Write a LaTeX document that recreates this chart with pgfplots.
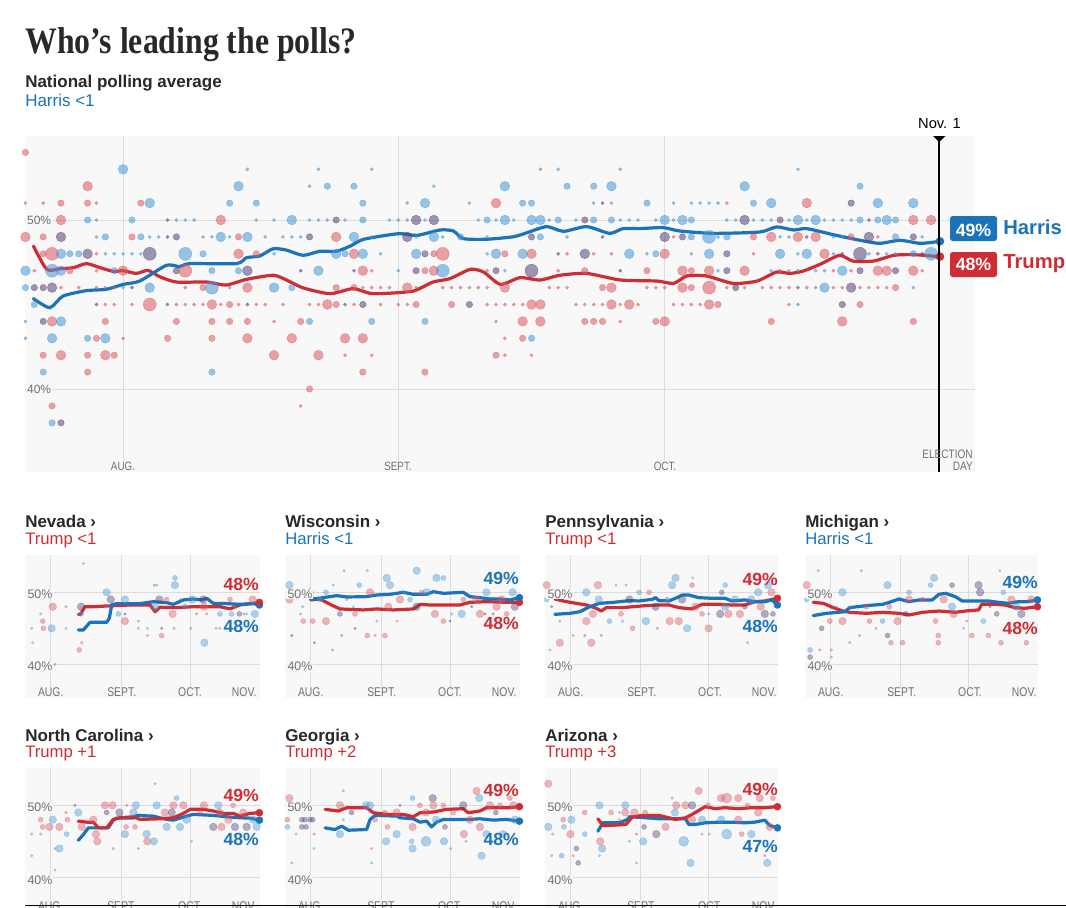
\documentclass[border=0pt]{standalone}
\usepackage{pgfplots}
\pgfplotsset{compat=1.18}
\usepackage{fontspec}
\setmainfont{Liberation Sans}
\newfontfamily\titlefont[FakeStretch=0.85]{Liberation Serif}
\newfontfamily\narrowfont[FakeStretch=0.82]{Liberation Sans}
\newcommand\fs[1]{\fontsize{#1}{#1}\selectfont}
\definecolor{hblue}{RGB}{27,115,186}
\definecolor{tred}{RGB}{206,45,52}
\definecolor{dotb}{RGB}{70,152,215}
\definecolor{dotr}{RGB}{219,88,97}
\definecolor{dotd}{RGB}{85,65,120}
\definecolor{plotbg}{RGB}{248,248,248}
\definecolor{gridc}{RGB}{220,220,220}
\definecolor{ticktext}{RGB}{112,112,112}
\definecolor{headtext}{RGB}{40,40,40}
\pgfplotsset{
  frame/.style={scale only axis, anchor=south west, axis line style={draw=none},
    major tick length=0pt, xticklabels={}, yticklabels={},
    xtick={0,31,61}, ytick={40,50}, grid=major,
    grid style={gridc, line width=0.75pt},
    axis background/.style={fill=plotbg}},
  small/.style={frame, width=176.25pt, height=107.25pt,
    xmin=-11.25, xmax=91.65, ymin=35.32, ymax=55.18},
  dots/.style n args={2}{scatter, only marks, mark=*, scatter src=explicit symbolic,
    scatter/classes={
      b={draw=dotb, fill=dotb, opacity=#1, line width=0.3pt},
      r={draw=dotr, fill=dotr, opacity=#1, line width=0.3pt},
      d={draw=dotd, fill=dotd, opacity=#1, line width=0.3pt}},
    visualization depends on={#2*\thisrow{s} \as \msz},
    scatter/@pre marker code/.append style={/tikz/mark size=\msz}},
  trend/.style={line width=2.4pt, line join=round, line cap=round},
  enddot/.style={only marks, mark=*, mark size=2.6pt},
}
\begin{document}
\begin{tikzpicture}
\useasboundingbox (0,0) rectangle (799.5pt,-680.25pt);
\clip (0,0) rectangle (799.5pt,-680.25pt);
\begin{scope}[x=0.75pt,y=-0.75pt]
\fill[white] (0,0) rectangle (1066,907);
\coordinate (mainSW) at (25,472);
\coordinate (p1) at (25,698);
\coordinate (p2) at (285,698);
\coordinate (p3) at (545,698);
\coordinate (p4) at (805,698);
\coordinate (p5) at (25,911);
\coordinate (p6) at (285,911);
\coordinate (p7) at (545,911);
\end{scope}

% ---------------- national ----------------
\begin{axis}[frame, at={(mainSW)}, width=712.5pt, height=252pt,
  xmin=-11.05, xmax=95.95, ymin=35.09, ymax=54.97]
\addplot[dots={0.55}{1.22}] table[meta=c]{
x y s c
-11 54 2 r
0 53 3 b
14 53 1 b
22 53 1 b
-4 52 3 r
13 52 3 b
21 52 1 b
23 52 2 b
-11 51 1 r
-9 51 1 r
-7 51 2 r
-4 51 2 r
-3 51 1 r
2 51 2 r
3 51 3 b
12 51 2 b
15 51 2 b
-7 50 3 r
-4 50 2 b
-3 50 1 b
1 50 2 b
5 50 1 d
6 50 1 b
7 50 1 b
8 50 1 b
11 50 3 r
15 50 1 b
17 50 1 b
19 50 3 b
21 50 1 b
22 50 1 b
23 50 1 b
24 50 2 d
-11 49 3 r
-9 49 2 r
-7 49 3 d
-3 49 1 b
-2 49 2 b
1 49 2 r
2 49 2 b
3 49 1 b
4 49 1 b
5 49 1 d
6 49 2 d
9 49 1 b
10 49 1 b
11 49 3 b
12 49 1 b
13 49 2 r
14 49 3 b
16 49 1 b
18 49 1 b
19 49 1 b
20 49 1 b
21 49 2 d
24 49 3 r
-9 48 2 r
-8 48 4 r
-7 48 3 b
-6 48 2 b
-5 48 2 b
-4 48 3 d
-3 48 1 r
-2 48 1 b
-1 48 1 b
0 48 1 b
1 48 1 b
2 48 1 b
3 48 4 d
7 48 4 b
9 48 2 b
13 48 3 r
15 48 2 r
17 48 1 b
24 48 3 b
-11 47 3 b
-10 47 1 r
-8 47 4 b
-7 47 3 b
-6 47 2 r
-3 47 1 r
-1 47 2 b
0 47 3 r
6 47 2 d
7 47 4 r
10 47 2 b
13 47 2 b
14 47 3 d
20 47 1 d
22 47 3 b
-11 46 2 b
-10 46 2 d
-9 46 2 d
-8 46 3 d
-7 46 1 r
-5 46 1 r
-3 46 1 r
-2 46 1 r
-1 46 1 r
0 46 1 b
1 46 1 d
3 46 3 b
7 46 1 r
9 46 2 r
10 46 4 b
12 46 1 b
14 46 3 r
17 46 3 b
19 46 2 b
24 46 2 r
-10 45 2 b
-3 45 1 d
-2 45 1 r
-1 45 1 r
1 45 1 r
3 45 4 r
5 45 1 d
6 45 1 r
7 45 1 r
8 45 1 r
9 45 1 r
10 45 3 r
11 45 1 r
12 45 2 r
13 45 1 r
14 45 1 d
15 45 1 r
16 45 1 r
18 45 1 r
21 45 1 r
22 45 1 r
23 45 3 r
24 45 2 r
-11 44 1 b
-9 44 2 d
-8 44 3 r
-7 44 3 b
-2 44 2 r
6 44 2 r
10 44 2 r
12 44 2 r
14 44 2 r
17 44 1 r
20 44 2 r
21 44 2 b
-11 43 1 b
-8 43 3 b
-4 43 2 b
-3 43 2 r
-2 43 3 b
0 43 1 r
5 43 2 r
10 43 2 r
14 43 3 r
19 43 3 r
-9 42 2 r
-7 42 3 r
-4 42 2 r
-2 42 3 r
-1 42 2 r
17 42 3 r
22 42 3 r
-9 41 2 b
-4 41 2 r
10 41 2 b
21 40 2 r
-8 39 2 r
20 39 1 r
-8 38 2 b
-7 38 2 d
28 53 1 b
47 53 1 b
49 53 1 b
56 53 1 b
26 52 2 b
35 52 1 b
43 52 3 b
50 52 2 b
53 52 2 b
55 52 3 b
27 51 2 b
32 51 1 b
34 51 3 b
39 51 1 b
42 51 3 r
45 51 2 b
46 51 2 b
53 51 1 b
54 51 1 d
55 51 1 b
59 51 2 b
25 50 1 b
27 50 2 b
30 50 1 b
31 50 1 b
32 50 1 b
33 50 3 d
34 50 1 b
35 50 3 d
40 50 1 b
41 50 2 b
42 50 1 b
43 50 3 b
44 50 1 b
46 50 3 b
47 50 3 b
48 50 1 b
49 50 2 b
51 50 1 b
52 50 2 d
53 50 2 b
55 50 2 b
56 50 1 b
57 50 1 b
58 50 1 b
60 50 1 b
26 49 3 b
28 49 1 b
32 49 3 d
33 49 1 b
35 49 3 b
36 49 1 b
38 49 2 b
41 49 1 b
46 49 2 d
47 49 2 b
50 49 1 b
54 49 1 d
25 48 2 b
26 48 3 r
27 48 3 b
29 48 1 b
33 48 3 b
34 48 2 d
35 48 2 r
36 48 4 r
41 48 1 b
42 48 3 b
43 48 2 r
45 48 3 b
46 48 3 r
49 48 1 d
50 48 1 r
52 48 3 d
53 48 1 r
55 48 1 r
57 48 3 b
59 48 1 b
60 48 2 b
26 47 1 d
27 47 3 r
28 47 1 r
31 47 1 b
33 47 2 d
34 47 2 r
35 47 3 r
36 47 4 b
41 47 1 r
42 47 2 d
43 47 1 b
46 47 4 d
49 47 1 r
52 47 2 r
56 47 1 d
59 47 2 r
26 46 2 r
27 46 1 r
28 46 1 r
29 46 1 r
30 46 1 r
32 46 3 r
33 46 1 r
36 46 1 r
37 46 1 r
38 46 1 r
39 46 1 r
40 46 1 r
41 46 1 r
43 46 3 r
48 46 1 r
49 46 1 r
50 46 1 r
54 46 2 r
55 46 3 r
59 46 1 r
60 46 1 r
25 45 1 d
26 45 1 r
27 45 2 d
29 45 1 r
31 45 1 r
32 45 1 r
33 45 2 r
37 45 2 r
39 45 2 d
41 45 1 r
42 45 1 r
43 45 1 r
44 45 1 r
45 45 1 r
46 45 3 r
47 45 3 r
51 45 1 r
52 45 1 r
53 45 1 r
54 45 1 r
55 45 3 r
56 45 1 r
57 45 3 r
58 45 1 r
28 44 2 b
34 44 2 b
42 44 1 b
45 44 3 r
47 44 3 r
52 44 2 r
53 44 2 r
54 44 2 r
56 44 1 r
60 44 2 r
25 43 3 r
27 43 3 r
43 43 1 r
45 43 2 r
46 43 2 b
25 42 1 r
28 42 1 r
42 42 2 r
43 42 1 r
46 42 1 r
27 41 2 r
34 41 2 r
76 53 1 b
70 52 3 b
83 52 2 b
62 51 1 b
64 51 1 b
65 51 1 b
66 51 1 b
67 51 1 b
68 51 1 r
71 51 2 b
73 51 3 b
77 51 3 r
82 51 2 d
85 51 3 b
89 51 3 b
61 50 3 b
62 50 1 b
63 50 3 b
64 50 2 b
68 50 1 b
69 50 1 b
70 50 3 d
71 50 1 b
72 50 1 b
73 50 1 b
74 50 2 d
75 50 1 b
76 50 3 b
77 50 1 b
78 50 3 b
79 50 1 b
80 50 1 b
81 50 1 b
82 50 1 b
83 50 2 b
84 50 1 d
85 50 2 b
86 50 3 b
87 50 2 b
89 50 3 r
91 50 3 r
61 49 3 d
62 49 1 r
63 49 2 d
64 49 2 b
66 49 4 b
67 49 1 b
68 49 2 b
71 49 2 r
73 49 3 r
74 49 1 b
75 49 1 b
76 49 3 r
77 49 1 d
78 49 3 r
80 49 1 b
81 49 1 b
82 49 2 r
84 49 3 d
85 49 1 r
87 49 2 b
89 49 2 d
90 49 1 b
61 48 3 r
64 48 1 b
66 48 3 b
68 48 2 d
71 48 1 r
74 48 3 b
76 48 1 b
77 48 3 b
79 48 3 r
80 48 1 b
81 48 1 d
83 48 4 d
84 48 1 b
85 48 1 d
86 48 1 b
87 48 1 b
89 48 2 b
90 48 1 d
91 48 4 b
63 47 3 r
64 47 2 r
66 47 3 r
67 47 1 b
68 47 2 d
70 47 3 r
73 47 1 b
74 47 1 r
75 47 1 b
76 47 1 b
78 47 1 b
79 47 1 b
80 47 1 r
81 47 3 b
82 47 1 r
83 47 2 d
85 47 3 r
86 47 3 r
87 47 2 d
89 47 3 r
90 47 1 r
61 46 1 r
63 46 3 r
64 46 2 r
66 46 4 r
68 46 1 r
69 46 2 d
70 46 1 r
72 46 1 r
73 46 1 r
74 46 1 r
75 46 1 r
76 46 1 d
77 46 1 r
78 46 1 r
79 46 3 b
80 46 1 r
81 46 1 r
82 46 3 d
83 46 1 r
84 46 1 r
85 46 1 r
86 46 1 r
87 46 2 r
89 46 1 b
62 45 1 r
63 45 1 r
64 45 1 r
65 45 1 r
66 45 3 r
67 45 2 r
75 45 1 r
76 45 1 b
81 45 2 d
83 45 2 r
61 44 3 r
73 44 2 r
81 44 3 r
89 44 2 r
};
\addplot[tred, trend, smooth, tension=0.4] coordinates {(-10.1,48.46) (-8.6,47.08) (-7.1,47.12) (-5.6,47.18) (-4.13,47.42) (-2.6,47.18) (-1.1,46.96) (0,47.0) (1.5,46.84) (2.8,47.02) (4.1,46.65) (6.0,46.33) (9.4,46.33) (11.6,46.15) (13.9,46.49) (16.9,46.73) (18.4,46.45) (20.3,45.98) (23.3,45.64) (25.9,45.94) (27.8,45.66) (29.7,45.66) (32.7,45.80) (34.9,46.33) (36.8,46.53) (39.1,47.08) (40.6,46.92) (42.5,46.19) (44.7,46.59) (46.96,46.45) (49.2,46.73) (52.2,46.84) (56.0,46.45) (60.1,46.39) (62.0,46.25) (63.5,46.69) (65.7,46.69) (68.7,46.25) (71.4,46.39) (73.6,46.92) (75.1,46.84) (76.6,46.98) (78.5,47.38) (80.7,47.91) (82.2,47.57) (84.5,47.57) (86.8,47.91) (89.0,47.95) (92.0,47.83)};
\addplot[hblue, trend, smooth, tension=0.4] coordinates {(-10.1,45.35) (-8.26,44.81) (-6.76,45.50) (-4.13,45.82) (-1.88,45.90) (0,46.19) (1.88,46.39) (4.88,47.32) (6.38,47.24) (7.51,47.42) (12.76,47.42) (13.89,47.77) (15.39,47.87) (16.89,48.30) (18.39,48.22) (20.27,47.91) (22.15,48.15) (24.02,48.15) (25.6,48.46) (27.1,48.86) (31.0,49.19) (33.1,49.09) (35.7,49.41) (37.2,49.35) (38.3,48.90) (40.9,48.86) (43.96,49.01) (45.5,49.25) (47.7,49.61) (49.6,49.33) (52.2,49.61) (54.8,49.21) (56.3,49.49) (58.2,49.49) (60.8,49.55) (62.7,49.35) (66.5,49.21) (71.7,49.29) (73.6,49.59) (75.5,49.41) (77.0,49.49) (80.0,49.13) (83.0,48.80) (85.2,48.62) (87.5,48.80) (89.8,48.62) (92.0,48.74)};
\addplot[enddot, mark size=3pt, tred] coordinates {(92,47.83)};
\addplot[enddot, mark size=3pt, hblue] coordinates {(92,48.74)};
\end{axis}

% ---------------- Nevada ----------------
\begin{axis}[small, at={(p1)}]
\addplot[dots={0.42}{0.95}] table[meta=c]{
x y s c
0.9 48 3 r
6.7 48 1 r
-3.2 45 2 r
0.4 45 3 b
-8.3 45 1 r
-7.9 43 1 b
-4.4 47 1 b
-3.5 46 2 r
13.3 48 3 d
13.3 47 2 b
13.6 43 1 r
12.5 42 2 r
14.3 54 1 b
6.7 45 1 b
24.5 50 3 b
26.3 49 3 d
24.8 48 1 b
29.6 47 2 b
32.5 49 3 b
32.5 46 3 r
32.5 47 1 d
38.4 46 1 b
38.4 45 1 b
42.3 45 1 b
42.3 44 1 r
45.4 51 1 b
46.4 51 1 b
45.7 48 3 b
47.6 49 3 d
48.6 45 1 d
48.6 44 2 r
50.8 49 2 r
54.0 45 1 r
54.4 52 2 b
54.4 51 3 b
53.4 47 3 r
56.9 49 1 b
58.8 48 2 b
61.3 45 1 b
62.1 49 3 b
63.9 47 1 r
66.8 49 3 d
67.1 48 3 r
67.3 43 3 b
68.3 47 1 r
72.4 45 1 b
74.1 47 2 b
74.1 45 1 r
74.8 48 1 d
78.5 49 2 r
79.2 47 2 b
80.7 48 1 b
82.6 47 2 d
84.6 47 1 r
85.8 47 1 b
88.4 49 3 r
89.4 47 3 b
1.8 40 1 b
};
\addplot[tred, trend] coordinates {(12.1,46.94) (13.0,46.94) (15.0,48.0) (18.7,48.0) (24.5,48.1) (34.7,48.24) (43.5,48.24) (45.7,47.3) (47.8,47.92) (55.1,47.87) (62.4,48.0) (68.3,48.0) (74.1,48.0) (78.5,47.7) (82.9,48.24) (91.4,48.6)};
\addplot[hblue, trend] coordinates {(12.1,44.77) (14.3,44.77) (17.2,45.83) (24.5,45.83) (25.7,46.4) (26.7,48.24) (28.9,48.43) (39.1,48.43) (44.9,48.7) (50.8,48.56) (53.7,48.33) (58.1,48.94) (62.4,49.07) (66.1,48.94) (68.3,49.17) (71.2,48.47) (77.0,48.43) (82.9,48.33) (88.7,48.43) (91.4,48.24)};
\addplot[enddot, hblue] coordinates {(91.4,48.24)};
\addplot[enddot, tred] coordinates {(91.4,48.6)};
\end{axis}

% ---------------- Wisconsin ----------------
\begin{axis}[small, at={(p2)}]
\addplot[dots={0.42}{0.95}] table[meta=c]{
x y s c
-9.3 51 3 b
-9.3 49 3 r
-3.5 48 1 b
-3.2 46 2 r
0.9 46 2 r
-0.3 50 3 b
-4.4 47 1 r
-8.3 44 1 d
1.6 43 1 d
4.1 49 2 b
6.7 50 2 b
6.7 46 3 r
9.9 51 1 b
9.6 42 1 r
12.8 47 2 d
13.6 44 1 r
14.6 53 1 b
15.8 49 1 r
18.7 48 1 b
19.4 45 1 d
19.4 47 2 r
21.3 51 2 b
24.8 53 1 b
24.8 44 2 r
26.0 50 3 r
28.2 44 1 r
28.9 46 1 b
32.5 44 2 r
33.3 52 3 b
34.0 48 3 r
34.7 51 3 b
37.9 46 1 r
39.1 49 3 r
40.6 50 1 b
43.5 49 2 b
46.4 53 3 b
48.6 50 2 r
50.8 50 3 b
46.4 48 3 d
54.4 47 3 r
55.1 52 3 b
58.1 52 2 b
58.1 46 2 r
61.0 46 1 d
61.7 47 1 b
66.1 47 3 b
66.8 49 2 r
70.5 48 1 d
72.6 49 3 r
74.1 47 3 r
76.3 47 1 d
77.0 50 3 b
79.9 47 1 d
81.4 48 3 r
83.6 49 3 r
85.8 47 2 r
88.4 50 3 b
89.4 48 3 d
};
\addplot[tred, trend] coordinates {(0,48.94) (4.1,49.07) (8.5,48.33) (12.8,47.69) (23.0,47.55) (28.9,47.69) (36.2,47.55) (45.0,47.69) (47.9,48.33) (52.1,48.24) (56.6,48.24) (65.4,48.24) (69.7,48.61) (77.0,48.7) (85.8,48.61) (91.4,48.61)};
\addplot[hblue, trend] coordinates {(0,49.03) (5.5,49.26) (11.4,49.54) (15.8,49.35) (24.5,49.4) (28.9,49.63) (34.7,49.72) (40.6,50.0) (45.0,49.72) (50.8,49.72) (53.7,50.09) (58.1,49.86) (66.8,50.0) (69.7,49.4) (74.1,49.26) (78.5,49.07) (82.9,49.07) (87.2,48.94) (91.4,49.26)};
\addplot[enddot, tred] coordinates {(91.4,48.61)};
\addplot[enddot, hblue] coordinates {(91.4,49.26)};
\end{axis}

% ---------------- Pennsylvania ----------------
\begin{axis}[small, at={(p3)}, width=174.75pt]
\addplot[dots={0.42}{0.95}] table[meta=c]{
x y s c
-10.5 51 3 r
-10.5 49 2 b
-4.7 50 2 r
-8.3 48 1 d
-4.7 46 1 r
-9.0 42 1 b
-4.7 43 3 r
1.2 44 1 b
6.3 44 1 r
7.0 50 3 b
7.0 46 3 r
9.9 47 3 r
9.2 43 3 r
12.1 51 3 r
12.5 49 3 b
13.6 44 1 r
17.2 46 2 b
20.1 51 1 b
24.5 51 1 b
22.3 47 2 r
23.0 46 1 b
26.0 49 3 d
27.4 45 2 r
30.3 50 2 b
33.3 46 3 b
34.7 50 2 r
37.6 48 3 d
38.4 45 1 r
42.7 49 2 b
43.8 46 3 r
44.9 51 3 b
46.4 52 3 b
47.8 46 3 r
49.3 49 3 d
51.5 45 3 b
53.7 51 2 r
54.0 52 1 b
55.1 48 3 r
58.1 47 2 r
61.0 45 3 r
61.0 47 1 b
66.1 47 3 d
66.8 50 2 d
68.3 51 2 b
68.3 48 3 b
69.7 47 3 r
72.6 49 3 b
74.8 47 3 r
77.0 48 2 d
78.2 43 1 b
79.9 49 3 b
82.9 50 3 b
84.0 48 3 r
85.8 47 3 d
87.2 51 3 b
88.7 50 3 r
89.4 47 2 d
};
\addplot[tred, trend] coordinates {(-6.9,49.07) (-1.8,48.7) (2.6,48.47) (7.0,48.24) (11.4,47.78) (13.6,47.4) (15.8,47.87) (23.1,47.87) (27.4,48.0) (33.3,48.15) (39.1,48.24) (43.5,48.24) (47.9,47.87) (53.7,47.69) (58.1,48.33) (65.4,48.33) (71.2,48.24) (77.0,48.24) (81.4,48.7) (85.8,48.8) (91.4,49.17)};
\addplot[hblue, trend] coordinates {(-6.9,46.94) (-0.3,47.08) (4.1,47.3) (8.5,48.0) (12.8,48.47) (18.7,48.6) (26.0,48.84) (30.3,48.8) (36.2,49.03) (37.6,49.26) (39.1,48.84) (43.5,48.8) (46.4,49.17) (49.3,49.63) (52.2,49.63) (56.6,49.26) (62.4,49.17) (68.3,49.17) (71.2,48.8) (77.0,48.94) (81.4,48.7) (85.8,48.7) (89.0,48.94) (91.4,48.24)};
\addplot[enddot, hblue] coordinates {(91.4,48.24)};
\addplot[enddot, tred] coordinates {(91.4,49.17)};
\end{axis}

% ---------------- Michigan ----------------
\begin{axis}[small, at={(p4)}, width=174.75pt]
\addplot[dots={0.42}{0.95}] table[meta=c]{
x y s c
-10.5 51 3 r
-10.5 49 2 b
-9.0 42 2 b
-9.0 41 2 d
-5.4 53 1 b
-3.9 45 2 d
-4.7 42 1 r
0.4 42 1 r
0.4 41 1 b
-0.3 46 2 r
2.6 48 1 b
5.3 50 3 b
5.3 46 3 r
8.5 48 1 b
8.5 43 1 r
12.8 44 1 b
13.6 53 1 b
15.8 48 2 r
17.2 46 2 r
20.1 45 1 r
23.0 46 2 b
25.2 51 3 b
25.2 44 2 d
26.0 48 2 r
26.7 43 2 r
29.6 46 3 r
31.8 43 2 r
33.3 47 2 d
34.7 50 2 b
34.7 49 3 r
40.6 49 2 r
44.2 51 2 b
45.7 52 3 b
46.4 46 2 r
47.6 44 2 r
47.6 43 2 r
50.0 49 3 r
53.7 51 2 d
53.7 48 3 b
54.4 47 3 r
58.8 45 1 b
60.2 46 1 r
62.4 44 2 r
65.4 51 3 d
66.1 50 3 d
67.5 46 2 b
69.7 44 2 r
70.5 48 1 d
73.4 47 2 d
74.8 53 1 b
75.3 43 2 r
76.3 50 2 b
79.9 49 3 r
82.1 48 3 b
84.3 47 3 d
86.5 43 2 r
88.7 49 3 r
};
\addplot[tred, trend] coordinates {(-7.6,48.61) (-3.2,48.47) (1.2,47.87) (5.5,47.4) (8.5,47.22) (15.8,47.08) (23.0,47.22) (30.3,47.08) (34.7,46.85) (40.6,47.22) (47.9,47.4) (55.1,47.22) (59.5,47.4) (65.4,47.55) (66.8,48.33) (72.7,48.33) (77.0,48.24) (81.4,47.87) (85.8,47.78) (91.4,48.0)};
\addplot[hblue, trend] coordinates {(-7.6,46.76) (-1.8,47.08) (3.4,47.22) (6.3,47.3) (8.5,47.87) (15.8,48.15) (23.0,48.33) (26.0,48.61) (30.3,49.07) (34.7,48.7) (39.1,48.94) (44.9,48.94) (47.9,49.72) (50.8,49.86) (55.1,49.4) (58.1,48.8) (65.4,48.8) (69.7,48.8) (74.1,48.61) (78.5,48.47) (82.9,48.7) (87.2,48.7) (91.4,48.94)};
\addplot[enddot, tred] coordinates {(91.4,48.0)};
\addplot[enddot, hblue] coordinates {(91.4,48.94)};
\end{axis}

% ---------------- North Carolina ----------------
\begin{axis}[small, at={(p5)}]
\addplot[dots={0.42}{0.95}] table[meta=c]{
x y s c
-8.3 46 1 r
-8.3 43 1 b
-4.4 48 2 r
-4.4 46 1 b
-3.5 47 2 r
0.9 48 3 b
-0.6 47 3 r
3.8 47 3 r
1.9 44 1 b
3.8 44 3 b
1.9 41 1 b
7.0 46 2 b
7.3 48 2 r
6.7 49 1 r
10.6 50 1 d
12.1 49 3 b
13.6 47 3 r
18.7 48 3 r
19.8 46 3 r
20.4 45 3 r
24.5 49 2 d
23.8 50 3 r
27.1 50 3 r
30.1 49 3 d
27.4 44 1 b
32.5 46 3 b
33.0 47 2 r
33.3 50 1 r
36.2 49 3 b
37.3 50 3 b
38.4 44 1 r
36.9 47 2 r
42.0 46 3 b
42.3 45 3 r
45.2 45 3 b
45.7 53 1 r
46.4 50 3 b
50.0 49 3 r
50.8 47 3 b
53.0 49 3 d
53.7 50 3 r
55.1 51 2 b
58.1 50 3 r
56.6 47 3 b
59.5 48 3 b
61.7 45 1 b
65.4 49 2 r
67.1 50 3 r
71.2 47 3 d
73.4 50 3 b
74.1 49 3 r
74.8 47 3 r
77.8 48 3 r
79.9 50 2 r
80.7 47 3 d
84.3 49 3 r
85.8 47 3 d
88.7 48 3 b
90.2 47 3 b
};
\addplot[hblue, trend] coordinates {(12.1,45.14) (14.3,45.93) (16.5,46.87) (19.4,46.87) (25.2,46.87) (27.4,47.94) (28.9,48.22) (36.2,48.22) (37.6,48.6) (44.9,48.5) (50.8,48.04) (53.7,47.94) (59.5,48.5) (62.4,48.74) (71.2,48.6) (77.0,48.41) (82.9,48.27) (87.2,48.22) (91.4,47.94)};
\addplot[tred, trend] coordinates {(12.1,47.8) (15.8,47.66) (18.7,47.66) (20.9,46.87) (24.5,46.87) (27.4,48.04) (30.3,48.27) (36.2,48.41) (39.1,48.04) (47.9,48.13) (53.7,48.27) (58.1,48.88) (61.1,49.44) (66.8,49.44) (71.2,49.21) (75.6,48.88) (80.0,48.88) (82.9,48.5) (87.2,48.88) (91.4,48.97)};
\addplot[enddot, hblue] coordinates {(91.4,47.94)};
\addplot[enddot, tred] coordinates {(91.4,48.97)};
\end{axis}

% ---------------- Georgia ----------------
\begin{axis}[small, at={(p6)}]
\addplot[dots={0.42}{0.95}] table[meta=c]{
x y s c
-9.3 51 3 r
-10.2 48 2 r
-10.2 47 2 b
-6.4 46 1 b
-3.9 48 2 d
-2.5 48 2 d
-3.9 47 2 d
-2.0 47 2 d
-0.3 48 2 d
0.9 48 2 d
1.5 46 1 r
1.5 44 1 b
-8.3 42 1 b
12.8 50 3 r
12.8 46 3 b
14.3 52 1 r
14.3 48 1 b
17.9 49 2 d
24.2 50 3 b
26.0 50 3 b
26.7 44 1 r
26.7 42 1 b
28.2 48 2 r
32.5 49 2 r
33.0 45 3 b
33.6 47 2 r
37.6 46 3 b
37.6 49 3 r
39.1 50 1 d
44.6 51 2 b
44.6 47 3 r
44.2 45 2 b
44.6 44 3 b
47.8 50 2 r
50.5 49 3 r
50.5 45 4 b
53.4 51 3 d
53.7 50 3 r
54.9 48 3 b
58.1 50 2 r
58.4 45 3 b
58.8 47 2 d
61.3 44 1 b
62.4 49 2 r
66.8 50 3 d
67.1 46 3 r
68.0 45 1 b
69.7 48 3 r
72.6 52 3 r
73.8 51 3 b
74.1 47 3 r
74.8 43 3 b
77.0 46 3 b
78.5 50 3 r
81.1 49 2 d
82.9 50 2 r
84.3 46 3 b
87.2 51 2 r
88.7 50 3 r
89.4 48 3 b
};
\addplot[hblue, trend] coordinates {(6.3,46.87) (10.6,46.64) (13.6,47.1) (16.5,46.54) (24.5,46.64) (26.0,48.04) (28.2,48.6) (37.6,48.5) (39.1,48.27) (44.9,48.13) (47.9,47.66) (50.8,47.8) (52.9,47.0) (55.1,47.66) (58.1,48.04) (61.0,48.04) (66.8,48.04) (69.7,48.04) (74.1,48.13) (77.0,48.04) (80.0,47.94) (85.8,48.04) (91.4,47.8)};
\addplot[tred, trend] coordinates {(6.3,49.44) (12.1,49.21) (15.8,49.67) (24.5,49.67) (27.4,48.97) (33.3,48.74) (40.6,48.74) (44.9,48.41) (47.9,48.97) (53.7,49.07) (59.5,49.44) (66.8,49.53) (69.0,48.97) (74.1,49.21) (77.0,49.67) (81.4,49.67) (87.2,49.67) (91.4,49.81)};
\addplot[enddot, hblue] coordinates {(91.4,47.8)};
\addplot[enddot, tred] coordinates {(91.4,49.81)};
\end{axis}

% ---------------- Arizona ----------------
\begin{axis}[small, at={(p7)}, width=174.75pt]
\addplot[dots={0.42}{0.95}] table[meta=c]{
x y s c
-9.8 53 3 r
-9.8 47 3 b
-7.9 46 1 r
-8.3 43 1 b
-3.9 43 2 b
-3.2 48 2 r
-2.9 47 2 b
0.4 48 3 b
0 46 3 r
1.2 43 1 r
2.6 44 2 d
3.4 42 2 d
6.3 49 2 r
6.3 46 2 b
12.8 50 3 b
13.1 45 3 r
14.0 44 3 b
12.8 43 1 b
17.9 49 2 r
21.6 48 1 r
21.6 49 1 b
24.2 50 3 b
24.2 49 3 r
26.0 45 1 b
28.2 49 3 r
29.2 46 1 r
29.2 42 1 b
32.1 45 3 b
32.5 47 2 d
33.0 49 2 r
37.9 46 3 d
42.0 47 3 r
44.9 51 1 b
46.1 49 3 b
46.7 50 3 r
50.0 45 4 b
50.8 50 3 r
53.7 50 3 d
53.7 48 3 r
56.6 52 3 r
58.1 48 3 b
58.1 46 1 r
60.7 50 2 r
61.3 46 1 b
66.5 51 3 r
69.0 51 4 r
66.5 48 3 b
69.0 46 4 b
74.1 51 3 r
74.1 48 3 r
75.6 46 2 r
78.2 50 2 r
79.9 46 3 b
82.9 49 3 r
83.6 51 3 r
85.8 43 1 r
86.9 42 3 b
88.0 47 3 r
89.4 51 2 r
53.0 42 3 b
};
\addplot[hblue, trend] coordinates {(12.1,46.4) (13.6,47.2) (14.3,47.57) (21.6,47.57) (25.2,48.04) (26.0,48.41) (33.3,48.27) (39.1,48.13) (50.8,48.13) (52.2,47.34) (55.1,47.34) (59.5,47.57) (65.4,47.66) (71.2,47.66) (77.0,47.57) (81.4,47.66) (85.8,47.94) (88.0,47.2) (91.4,46.87)};
\addplot[tred, trend] coordinates {(12.1,48.13) (14.3,47.2) (17.2,47.2) (24.5,47.34) (27.4,48.41) (31.8,48.6) (39.1,48.6) (46.4,48.04) (50.8,48.27) (53.7,48.74) (59.5,49.81) (63.9,49.53) (68.3,49.67) (74.1,49.53) (80.0,49.67) (85.8,49.67) (91.4,49.81)};
\addplot[enddot, hblue] coordinates {(91.4,46.87)};
\addplot[enddot, tred] coordinates {(91.4,49.81)};
\end{axis}

% ---------------- texts and annotations ----------------
\begin{scope}[x=0.75pt,y=-0.75pt]
\node[anchor=base west, inner sep=0, text=headtext, font=\titlefont\bfseries\fs{28}] at (25,53) {Who’s leading the polls?};
\node[anchor=base west, inner sep=0, text=headtext, font=\bfseries\fs{12.75}] at (25,87.5) {National polling average};
\node[anchor=base west, inner sep=0, text=hblue, font=\fs{12.75}] at (25,106) {Harris <1};
% election / today line
\draw[black, line width=1pt] (939,136) -- (939,472);
\fill[black] (933,136) -- (945.5,136) -- (939.2,142) -- cycle;
\node[anchor=base, inner sep=0, font=\fs{11}] at (939.5,128.3) {Nov. 1};
% main tick labels
\node[anchor=west, inner sep=1pt, fill=plotbg, text=ticktext, font=\fs{9}] at (25.5,220.5) {50\%};
\node[anchor=west, inner sep=1pt, fill=plotbg, text=ticktext, font=\fs{9}] at (25.5,389.5) {40\%};
\foreach \xx/\lab in {123/AUG., 398/SEPT., 665/OCT.}
  \node[anchor=base, inner sep=1pt, fill=plotbg, text=ticktext, font=\narrowfont\fs{9}] at (\xx,470) {\lab};
\node[anchor=base east, inner sep=0, text=ticktext, font=\narrowfont\fs{9.2}] at (973,458) {ELECTION};
\node[anchor=base east, inner sep=0, text=ticktext, font=\narrowfont\fs{9.2}] at (973,470) {DAY};
% badges
\fill[hblue, rounded corners=2pt] (950,216) rectangle (997,241);
\fill[tred, rounded corners=2pt] (950,252) rectangle (997,277);
\node[anchor=base, inner sep=0, text=white, font=\bfseries\fs{13.3}] at (973.5,236.5) {49\%};
\node[anchor=base, inner sep=0, text=white, font=\bfseries\fs{13.3}] at (973.5,270.5) {48\%};
\node[anchor=base west, inner sep=0, text=hblue, font=\bfseries\fs{15.2}] at (1003,234.3) {Harris};
\node[anchor=base west, inner sep=0, text=tred, font=\bfseries\fs{15.2}] at (1003,268) {Trump};
% small panel titles
\foreach \L/\T/\S/\C/\B in {25/Nevada/Trump <1/tred/0, 285/Wisconsin/Harris <1/hblue/0, 545/Pennsylvania/Trump <1/tred/0, 805/Michigan/Harris <1/hblue/0, 25/North Carolina/Trump +1/tred/213.3, 285/Georgia/Trump +2/tred/213.3, 545/Arizona/Trump +3/tred/213.3}{
  \node[anchor=base west, inner sep=0, text=headtext, font=\bfseries\fs{12.75}] at (\L,527.7+\B) {\T\ ›};
  \node[anchor=base west, inner sep=0, text=\C, font=\fs{12.5}] at (\L,544.3+\B) {\S};
  \node[anchor=west, inner sep=0.8pt, fill=plotbg, text=ticktext, font=\fs{9.3}] at (\L+1.2,594+\B) {50\%};
  \node[anchor=west, inner sep=0.8pt, fill=plotbg, text=ticktext, font=\fs{9.3}] at (\L+1.2,666.7+\B) {40\%};
  \node[anchor=base, inner sep=1pt, fill=plotbg, text=ticktext, font=\narrowfont\fs{9.5}] at (\L+25.7,696.7+\B) {AUG.};
  \node[anchor=base, inner sep=1pt, fill=plotbg, text=ticktext, font=\narrowfont\fs{9.5}] at (\L+96.7,696.7+\B) {SEPT.};
  \node[anchor=base, inner sep=1pt, fill=plotbg, text=ticktext, font=\narrowfont\fs{9.5}] at (\L+165,696.7+\B) {OCT.};
  \node[anchor=base east, inner sep=1pt, fill=plotbg, text=ticktext, font=\narrowfont\fs{9.5}] at (\L+233,696.7+\B) {NOV.};
}
% small panel end labels
\foreach \X/\Y/\C/\V in {259/590/tred/48, 259/632.7/hblue/48, 519/584.3/hblue/49, 519/629/tred/48, 778/585.7/tred/49, 778/632.3/hblue/48, 1038/588.3/hblue/49, 1038/634.3/tred/48, 259/801/tred/49, 259/845/hblue/48, 519/796/tred/49, 519/845.7/hblue/48, 778/795/tred/49, 778/852.7/hblue/47}
  \node[anchor=base east, inner sep=0, text=\C, font=\bfseries\fs{13.2}] at (\X,\Y) {\V\%};
\draw[black, line width=1pt] (25,905.3) -- (1066,905.3);
\end{scope}
\end{tikzpicture}
\end{document}
